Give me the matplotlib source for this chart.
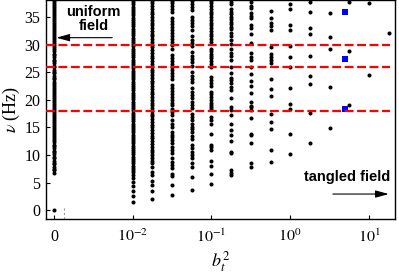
import numpy as np
import matplotlib
matplotlib.use("Agg")
import matplotlib.pyplot as plt
from matplotlib.ticker import FixedLocator, NullLocator

plt.rcParams['font.family'] = ['Liberation Serif', 'DejaVu Serif']
plt.rcParams['mathtext.fontset'] = 'stix'

# b_t^2 of each column (0 is drawn at the far left, before the break)
b_values = [0.0, 0.01, 0.0178, 0.0316, 0.0562, 0.1, 0.178, 0.316,
            0.562, 1.0, 1.78, 3.16, 5.62, 10.0, 17.8]

freq_b0 = [0.0, 6.8, 7.2, 7.5, 7.9, 8.3, 8.6, 9.0, 9.4, 9.7, 10.1, 10.5, 10.8,
           11.2, 11.6, 11.9, 12.3, 12.7, 13.0, 13.4, 13.8, 14.1, 14.5, 14.9,
           15.2, 15.6, 16.0, 16.3, 16.7, 17.1, 17.4, 17.8, 18.2, 18.5, 18.9,
           19.3, 19.6, 20.0, 20.4, 20.7, 21.1, 21.5, 21.8, 22.2, 22.6, 22.9,
           23.3, 23.7, 24.0, 24.4, 24.8, 25.1, 25.5, 25.9, 26.2, 26.6, 27.0,
           27.3, 27.7, 28.1, 28.4, 28.8, 29.2, 29.5, 29.9, 30.3, 30.6, 31.0,
           31.4, 31.7, 32.1, 32.5, 32.8, 33.2, 33.6, 33.9, 34.3, 34.7, 35.0,
           35.4, 35.8, 36.1, 36.5, 36.9, 37.2, 37.6, 38.0, 38.3]
freq_b1 = [1.5, 2.5, 3.4, 4.3, 5.1, 5.8, 6.4, 6.9, 7.3, 7.7, 8.1, 8.5, 8.9, 9.3,
           9.7, 10.1, 10.5, 10.9, 11.3, 11.7, 12.1, 12.5, 12.9, 13.3, 13.7,
           14.1, 14.5, 14.9, 15.3, 15.7, 16.1, 16.5, 16.9, 17.3, 17.7, 18.1,
           18.5, 18.9, 19.3, 19.7, 20.1, 20.5, 20.9, 21.3, 21.7, 22.1, 22.5,
           22.9, 23.3, 23.7, 24.1, 24.5, 24.9, 25.3, 25.7, 26.1, 26.5, 26.9,
           27.3, 27.7, 28.1, 28.5, 28.9, 29.3, 29.7, 30.1, 30.5, 30.9, 31.3,
           31.7, 32.1, 32.5, 32.9, 33.3, 33.7, 34.1, 34.5, 34.9, 35.3, 35.7,
           36.1, 36.5, 36.9, 37.3, 37.7, 38.1]
freq_b2 = [2.0, 3.4, 4.5, 5.3, 6.3, 7.0, 7.9, 8.5, 9.0, 9.5, 10.0, 10.5, 11.0,
           11.5, 12.0, 12.5, 13.0, 13.5, 14.0, 14.5, 15.0, 15.5, 16.0, 16.5,
           17.0, 17.5, 18.0, 18.5, 19.0, 19.5, 20.0, 20.5, 21.0, 21.5, 22.0,
           22.5, 23.0, 23.5, 24.0, 24.5, 25.0, 25.5, 26.0, 26.5, 27.0, 27.5,
           28.0, 28.5, 29.0, 29.5, 30.0, 30.5, 31.0, 31.5, 32.0, 32.5, 33.0,
           33.5, 34.0, 34.5, 35.0, 35.5, 36.0, 36.5, 37.0, 37.5, 38.0]
freq_b3 = [2.7, 4.5, 6.2, 6.6, 7.6, 8.2, 8.8, 9.4, 10.3, 10.9, 11.5, 12.1, 12.7,
           13.3, 13.7, 14.2, 15.1, 15.7, 16.3, 17.2, 17.8, 18.4, 19.0, 19.4,
           19.9, 20.5, 21.0, 21.6, 22.1, 22.7, 23.8, 24.3, 24.9, 25.4, 26.0,
           26.5, 27.1, 27.6, 28.2, 29.3, 29.9, 30.4, 31.0, 31.5, 32.1, 32.6,
           33.2, 33.7, 34.3, 34.8, 35.9, 36.4, 37.0, 37.5, 38.0]
freq_b4 = [3.6, 6.0, 7.9, 8.5, 9.4, 10.0, 10.6, 11.2, 11.8, 12.9, 13.5, 14.2,
           14.7, 15.1, 15.7, 16.3, 16.9, 17.5, 18.6, 19.0, 19.6, 20.3, 20.9,
           21.5, 22.1, 23.2, 23.8, 24.4, 25.0, 26.2, 26.8, 27.4, 28.0, 28.6,
           29.7, 30.3, 30.9, 31.5, 32.7, 33.3, 33.9, 34.5, 35.1, 36.2, 36.8,
           37.4, 38.0]
freq_b5 = [4.8, 6.5, 8.0, 8.9, 11.0, 11.5, 11.8, 13.9, 15.7, 16.3, 16.9, 18.4,
           18.7, 19.0, 19.5, 20.0, 20.5, 21.0, 21.5, 22.6, 23.1, 23.6, 24.2,
           26.0, 26.5, 27.0, 27.5, 28.0, 28.4, 28.9, 29.3, 30.5, 31.0, 31.5,
           32.0, 32.5, 33.0, 33.5, 34.0, 34.5, 35.0, 35.5, 36.0, 36.5, 37.0,
           37.5, 38.0]
freq_b6 = [6.3, 6.8, 7.3, 10.3, 10.6, 12.5, 13.6, 14.5, 15.7, 17.2, 18.1, 18.7,
           20.3, 21.8, 22.3, 23.0, 23.6, 23.9, 24.8, 26.0, 27.3, 27.9, 28.5,
           29.3, 30.1, 30.9, 31.6, 32.2, 32.8, 33.2, 33.7, 34.1, 34.6, 35.1,
           35.5, 35.9, 36.4, 37.4, 37.8]
freq_b7 = [7.9, 8.5, 12.2, 13.6, 13.9, 16.7, 18.1, 18.7, 18.9, 19.6, 21.3,
           22.5, 23.4, 24.7, 26.0, 27.2, 27.7, 28.5, 30.3, 32.0, 33.0, 33.6,
           34.8, 35.2, 35.8, 36.6, 37.0, 37.8]
freq_b8 = [8.8, 11.0, 14.8, 16.0, 17.5, 20.7, 21.9, 23.7, 26.7, 27.2, 27.8,
           28.4, 29.6, 32.6, 33.4, 34.0, 34.9, 36.1]
freq_b9 = [10.2, 13.9, 18.3, 19.3, 22.1, 25.9, 27.7, 29.8, 32.6, 33.6, 36.5,
           37.4]
freq_b10 = [12.2, 17.7, 22.9, 24.3, 28.0, 31.9, 33.0, 36.0, 37.8]
freq_b11 = [14.9, 22.4, 29.2, 31.4, 35.8]
freq_b12 = [19.0, 28.8, 37.8]
freq_b13 = [24.5, 37.5]
freq_b14 = [32.1]
freq_columns = [freq_b0, freq_b1, freq_b2, freq_b3, freq_b4, freq_b5, freq_b6,
                freq_b7, freq_b8, freq_b9, freq_b10, freq_b11, freq_b12,
                freq_b13, freq_b14]

# highlighted modes
blue_b = [5.0, 5.0, 5.0]
blue_freq = [18.3, 27.4, 35.9]

# reference frequencies (red dashed)
ref_freq = [18.0, 26.0, 30.0]

zero_pos = 1e-3  # where b=0 sits on the log axis

fig = plt.figure(figsize=(3.99, 2.79), dpi=100)
ax = fig.add_axes([0.115, 0.215, 0.875, 0.785])
ax.set_xscale('log')

for b, fr in zip(b_values, freq_columns):
    xb = zero_pos if b == 0 else b
    ax.scatter(np.full(len(fr), xb), fr, s=8.5, color='black', lw=0, zorder=2)

ax.scatter(blue_b, blue_freq, marker='s', s=22, color='#0000ff', lw=0, zorder=2)

ax.hlines(ref_freq, 7.9e-4, 18.5, colors='#ff0000', lw=1.6,
          linestyles=(0, (4, 1.6)), zorder=3)

ax.set_xlim(7.9e-4, 21.4)
ax.set_ylim(-1.6, 38.1)

ax.xaxis.set_major_locator(FixedLocator([zero_pos, 1e-2, 1e-1, 1, 10]))
ax.xaxis.set_minor_locator(NullLocator())
ax.set_xticklabels(['0', '$10^{-2}$', '$10^{-1}$', '$10^{0}$', '$10^{1}$'])
ax.set_yticks([0, 5, 10, 15, 20, 25, 30, 35])
ax.tick_params(direction='in', length=3, width=0.8, labelsize=11.5)
ax.tick_params(axis='x', pad=7)
ax.tick_params(axis='y', pad=4)

# axis break marker
ax.axvline(1.35e-3, ymin=0.0, ymax=0.055, color='0.6', lw=0.8,
           ls=(0, (2, 2)))

for sp in ax.spines.values():
    sp.set_linewidth(1.0)

ax.set_xlabel('$b_t^2$', fontsize=13, labelpad=2)
ax.set_ylabel(r'$\nu$ (Hz)', fontsize=13, labelpad=2)

ann = dict(family='Liberation Sans', weight='bold', fontsize=10.5)
ax.text(0.136, 0.913, 'uniform\nfield', transform=ax.transAxes, ha='center',
        va='center', linespacing=1.0, **ann)
ax.annotate('', xy=(0.030, 0.828), xytext=(0.19, 0.828),
            xycoords='axes fraction',
            arrowprops=dict(arrowstyle='-|>,head_length=0.8,head_width=0.22',
                            color='black', lw=0.8, shrinkA=0, shrinkB=0))
ax.text(0.862, 0.193, 'tangled field', transform=ax.transAxes, ha='center',
        va='center', **ann)
ax.annotate('', xy=(0.982, 0.114), xytext=(0.822, 0.114),
            xycoords='axes fraction',
            arrowprops=dict(arrowstyle='-|>,head_length=0.8,head_width=0.22',
                            color='black', lw=0.8, shrinkA=0, shrinkB=0))

fig.savefig('out.png', dpi=100)
